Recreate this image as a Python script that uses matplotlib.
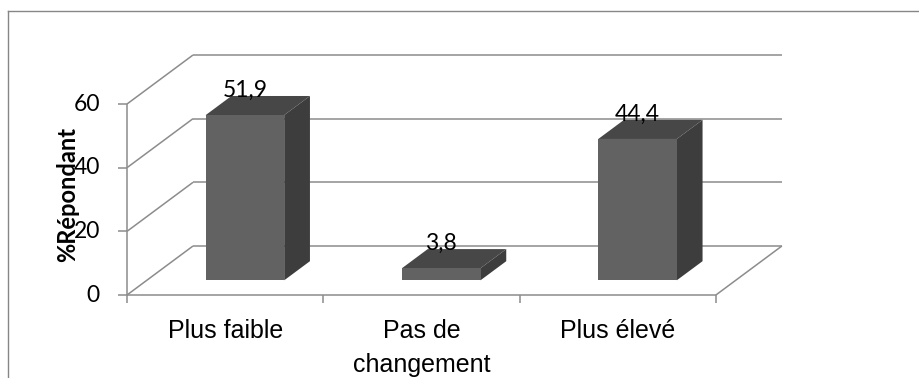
import matplotlib.pyplot as plt
from matplotlib.patches import Polygon
from matplotlib.lines import Line2D

categories = ["Plus faible", "Pas de\nchangement", "Plus élevé"]
values = [51.9, 3.8, 44.4]
value_labels = ["51,9", "3,8", "44,4"]
y_ticks = [0, 20, 40, 60]
y_ticklabels = ["0", "20", "40", "60"]

W, H = 919, 378
fig = plt.figure(figsize=(W / 100, H / 100), dpi=100)
ax = fig.add_axes([0, 0, 1, 1])
ax.set_axis_off()

# front plane: category 0 at x=127px, value 0 at y=295px (from top)
x0_px, y0_px = 127, 295
px_per_cat = 196.3
px_per_unit = 3.183
ax.set_xlim(-x0_px / px_per_cat, (W - x0_px) / px_per_cat)
ax.set_ylim((y0_px - H) / px_per_unit, y0_px / px_per_unit)

# depth of the 3d box, in data units
DX = 66 / px_per_cat
DY = 49 / px_per_unit
ncat = len(categories)

grid = dict(color="#8c8c8c", lw=1.1, solid_capstyle="butt", zorder=1)

# back wall gridlines and left wall diagonals
for t in y_ticks:
    ax.plot([DX, ncat + DX], [t + DY, t + DY], **grid)
    ax.plot([0, DX], [t, t + DY], **grid)
# floor edges
ax.plot([0, ncat], [0, 0], **grid)
ax.plot([ncat, ncat + DX], [0, DY], **grid)
# value axis with ticks
ax.plot([0, 0], [0, max(y_ticks)], **grid)
for t, lab in zip(y_ticks, y_ticklabels):
    ax.plot([-9 / px_per_cat, 0], [t, t], **grid)
    ax.text(-27 / px_per_cat, t, lab, ha="right", va="center",
            fontsize=16.5, family="Lato", color="black")
# category ticks
for i in range(ncat + 1):
    ax.plot([i, i], [0, -8 / px_per_unit], **grid)

# 3d bars
bar_w = 0.4
f0, f1 = 0.30, 0.69
front_c, top_c, side_c = "#626262", "#474747", "#3d3d3d"
ddx = (f1 - f0) * DX
ddy = (f1 - f0) * DY
for i, (v, lab) in enumerate(zip(values, value_labels)):
    c = i + 0.5
    xl = c - bar_w / 2 + f0 * DX
    xr = c + bar_w / 2 + f0 * DX
    yb = f0 * DY
    yt = v + f0 * DY
    side = [(xr, yb), (xr + ddx, yb + ddy), (xr + ddx, yt + ddy), (xr, yt)]
    top = [(xl, yt), (xl + ddx, yt + ddy), (xr + ddx, yt + ddy), (xr, yt)]
    front = [(xl, yb), (xr, yb), (xr, yt), (xl, yt)]
    ax.add_patch(Polygon(side, closed=True, fc=side_c, ec="none", zorder=3))
    ax.add_patch(Polygon(top, closed=True, fc=top_c, ec="none", zorder=3))
    ax.add_patch(Polygon(front, closed=True, fc=front_c, ec="none", zorder=4))
    ax.text((xl + xr) / 2, yt + ddy - 1 / px_per_unit, lab, ha="center",
            va="baseline", fontsize=16.5, family="Lato", color="black",
            zorder=5)

# category labels
for i, name in enumerate(categories):
    ax.text(i + 0.5, (y0_px - 319) / px_per_unit, name, ha="center", va="top",
            multialignment="center", linespacing=1.55, fontsize=18,
            family="Liberation Sans", color="black")

ax.text((68 - x0_px) / px_per_cat, (y0_px - 195) / px_per_unit, "%Répondant",
        rotation=90, ha="center", va="center", fontsize=17,
        fontweight="bold", family="Lato", color="black", zorder=6)

# chart area border (top and left edges)
fig.add_artist(Line2D([8 / W, 1], [1 - 11 / H, 1 - 11 / H],
                      transform=fig.transFigure, color="#868686", lw=1))
fig.add_artist(Line2D([8 / W, 8 / W], [0, 1 - 11 / H],
                      transform=fig.transFigure, color="#868686", lw=1))

fig.savefig("out.png", dpi=100, facecolor="white")
